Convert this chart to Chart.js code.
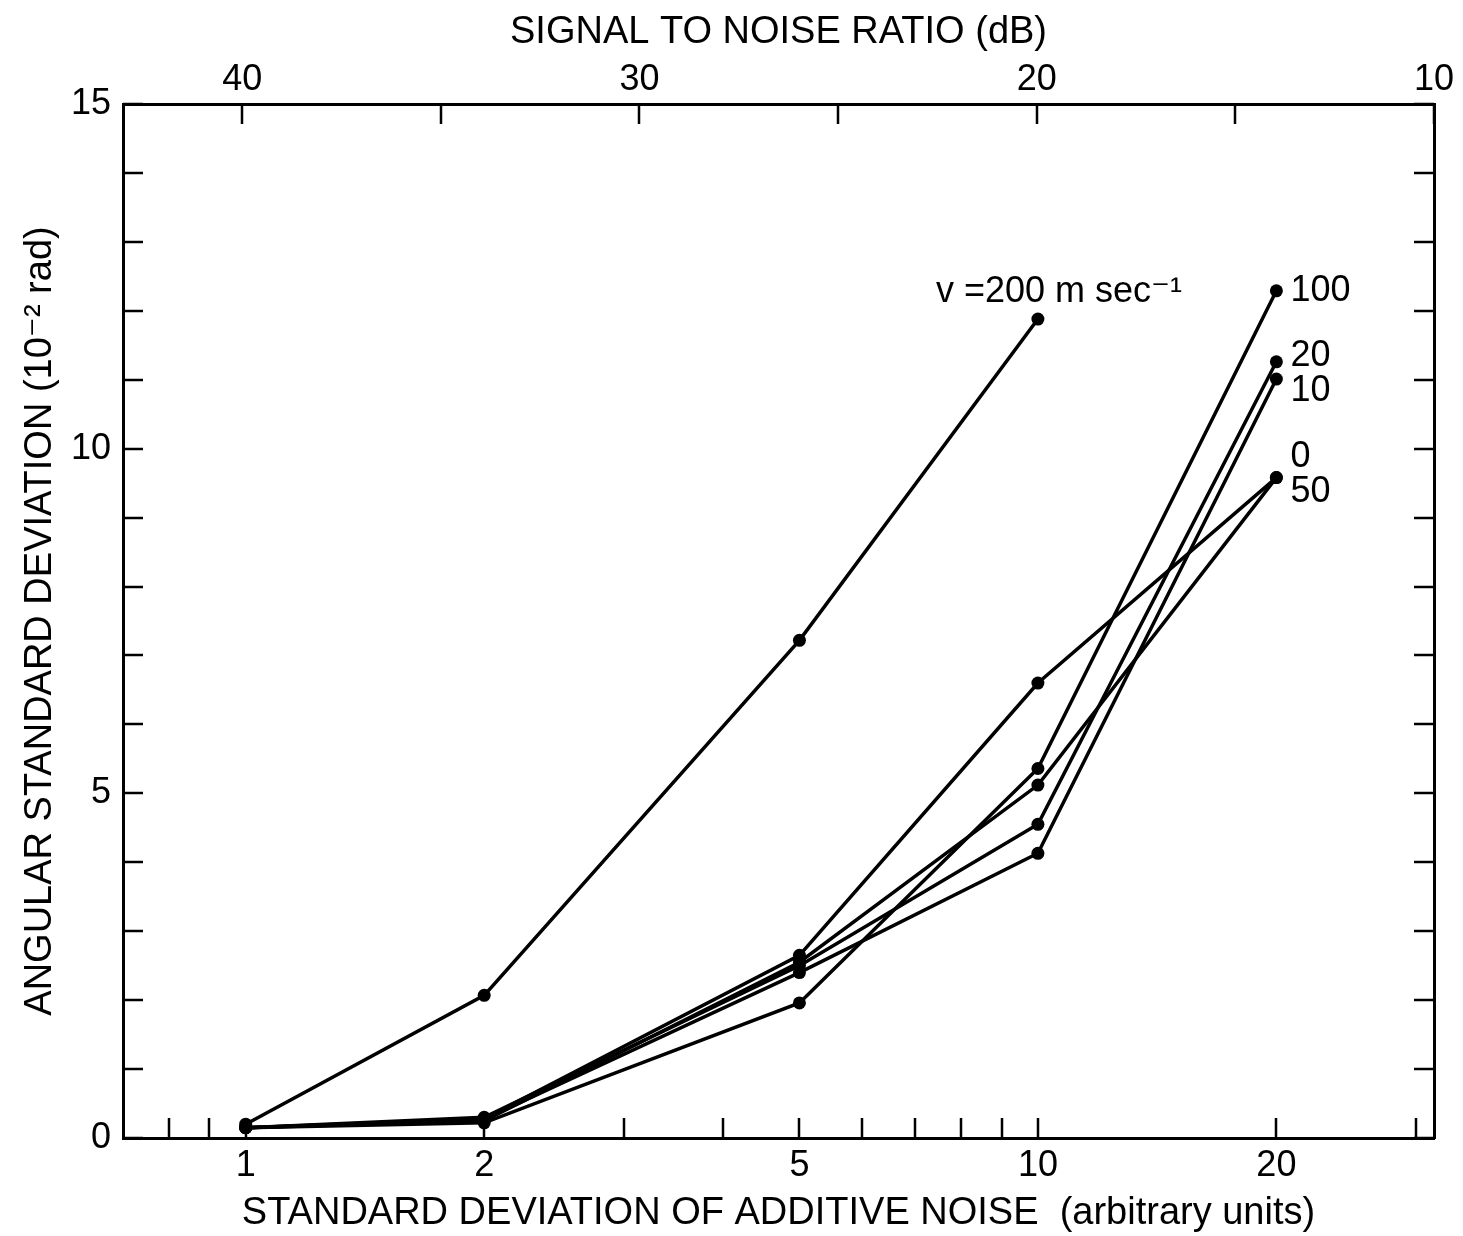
<!DOCTYPE html>
<html>
<head>
<meta charset="utf-8">
<script src="https://cdn.jsdelivr.net/npm/chart.js@4.4.1/dist/chart.umd.min.js"></script>
<style>
  html, body { margin: 0; padding: 0; background: #fff; }
  #wrap { width: 1463px; height: 1236px; position: relative; }
</style>
</head>
<body>
<div id="wrap"><canvas id="noiseChart"></canvas></div>
<script>
// noise std deviation (arbitrary units) of each run
const noiseLevels = [1, 2, 5, 10, 20];

// angular std deviation (10^-2 rad), one array per speed v (m/s)
const v200 = [0.2, 2.07, 7.22, 11.88];
const v100 = [0.15, 0.22, 1.96, 5.36, 12.29];
const v50 = [0.15, 0.28, 2.65, 6.6, 9.58];
const v0 = [0.15, 0.25, 2.55, 5.12, 9.58];
const v20 = [0.15, 0.3, 2.5, 4.55, 11.26];
const v10 = [0.15, 0.27, 2.4, 4.13, 11.01];

// ticks
const noiseTicks = [0.8, 0.9, 1, 2, 3, 4, 5, 6, 7, 8, 9, 10, 20, 30];
const noiseLabels = [1, 2, 5, 10, 20];
const snrTicks = [10, 15, 20, 25, 30, 35, 40];
const snrLabels = [10, 20, 30, 40];
const devTicks = [0, 1, 2, 3, 4, 5, 6, 7, 8, 9, 10, 11, 12, 13, 14, 15];
const devLabels = [0, 5, 10, 15];

// labels written at the end of each curve
const curveNames = ["v =200 m sec⁻¹", "100", "50", "0", "20", "10"];

// SNR (dB) = 40 - 20 log10(noise)
const snrMin = 10;
const snrMax = 43;
const noiseMin = Math.pow(10, (40 - snrMax) / 20);
const noiseMax = Math.pow(10, (40 - snrMin) / 20);

const FONT = "'Liberation Sans', 'DejaVu Sans', sans-serif";

// where each end label sits relative to the last point (px)
const labelOffsets = [
  { dx: -102, dy: -27 },
  { dx: 14, dy: 0 },
  { dx: 14, dy: 14 },
  { dx: 14, dy: -21 },
  { dx: 14, dy: -6 },
  { dx: 14, dy: 12 },
];

function toPoints(values) {
  return values.map((v, i) => ({ x: noiseLevels[i], y: v }));
}

function lineSet(label, values) {
  return {
    label,
    data: toPoints(values),
    borderColor: "#000",
    backgroundColor: "#000",
    borderWidth: 3.5,
    pointRadius: 6.5,
    pointBackgroundColor: "#000",
    pointBorderWidth: 0,
    tension: 0,
    xAxisID: "x",
    yAxisID: "y",
  };
}

// ticks drawn on the inside of the frame
const innerTicks = {
  id: "innerTicks",
  afterDraw(chart) {
    const { ctx, chartArea, scales } = chart;
    const len = 20;
    ctx.save();
    ctx.strokeStyle = "#000";
    ctx.lineWidth = 2.5;
    ctx.beginPath();
    scales.x.ticks.forEach(t => {
      const px = Math.round(scales.x.getPixelForValue(t.value));
      ctx.moveTo(px, chartArea.bottom);
      ctx.lineTo(px, chartArea.bottom - len);
    });
    scales.xTop.ticks.forEach(t => {
      const px = Math.round(scales.xTop.getPixelForValue(t.value));
      ctx.moveTo(px, chartArea.top);
      ctx.lineTo(px, chartArea.top + len);
    });
    scales.y.ticks.forEach(t => {
      const py = Math.round(scales.y.getPixelForValue(t.value));
      ctx.moveTo(chartArea.left, py);
      ctx.lineTo(chartArea.left + len, py);
    });
    scales.yRight.ticks.forEach(t => {
      const py = Math.round(scales.yRight.getPixelForValue(t.value));
      ctx.moveTo(chartArea.right, py);
      ctx.lineTo(chartArea.right - len, py);
    });
    ctx.stroke();
    ctx.restore();
  },
};

// curve names next to their last point
const endLabels = {
  id: "endLabels",
  afterDatasetsDraw(chart) {
    const { ctx } = chart;
    ctx.save();
    ctx.fillStyle = "#000";
    ctx.font = "36px " + FONT;
    ctx.textAlign = "left";
    ctx.textBaseline = "middle";
    chart.data.datasets.forEach((ds, i) => {
      const pts = chart.getDatasetMeta(i).data;
      const last = pts[pts.length - 1];
      const off = labelOffsets[i];
      ctx.fillText(curveNames[i], last.x + off.dx, last.y + off.dy);
    });
    ctx.restore();
  },
};

const tickFont = { family: FONT, size: 36 };
const titleFont = { family: FONT, size: 38 };
const frame = { display: true, color: "#000", width: 3 };

new Chart(document.getElementById("noiseChart").getContext("2d"), {
  type: "line",
  data: {
    datasets: [
      lineSet("200", v200),
      lineSet("100", v100),
      lineSet("50", v50),
      lineSet("0", v0),
      lineSet("20", v20),
      lineSet("10", v10),
    ],
  },
  options: {
    responsive: true,
    maintainAspectRatio: false,
    animation: false,
    layout: { padding: 0 },
    plugins: {
      legend: { display: false },
      tooltip: { enabled: false },
    },
    scales: {
      x: {
        type: "logarithmic",
        position: "bottom",
        min: noiseMin,
        max: noiseMax,
        afterBuildTicks: s => { s.ticks = noiseTicks.map(v => ({ value: v })); },
        afterFit: s => { s.height = 98; },
        grid: { display: false },
        border: frame,
        ticks: {
          autoSkip: false,
          maxRotation: 0,
          padding: -2,
          color: "#000",
          font: tickFont,
          callback: v => (noiseLabels.includes(v) ? String(v) : ""),
        },
        title: {
          display: true,
          text: "STANDARD DEVIATION OF ADDITIVE NOISE  (arbitrary units)",
          color: "#000",
          font: titleFont,
          padding: { top: 0, bottom: 0 },
        },
      },
      xTop: {
        type: "linear",
        position: "top",
        reverse: true,
        min: snrMin,
        max: snrMax,
        afterBuildTicks: s => { s.ticks = snrTicks.map(v => ({ value: v })); },
        afterFit: s => { s.height = 104; },
        grid: { display: false },
        border: frame,
        ticks: {
          autoSkip: false,
          maxRotation: 0,
          padding: -6,
          color: "#000",
          font: tickFont,
          callback: v => (snrLabels.includes(v) ? String(v) : ""),
        },
        title: {
          display: true,
          text: "SIGNAL TO NOISE RATIO (dB)",
          color: "#000",
          font: titleFont,
          padding: { top: 10, bottom: 0 },
        },
      },
      y: {
        type: "linear",
        position: "left",
        min: 0,
        max: 15,
        afterBuildTicks: s => { s.ticks = devTicks.map(v => ({ value: v })); },
        afterFit: s => { s.width = 123; },
        grid: { display: false },
        border: frame,
        ticks: {
          autoSkip: false,
          padding: 4,
          color: "#000",
          font: { family: FONT, size: 36 },
          callback: v => (devLabels.includes(v) ? String(v) : ""),
        },
        title: {
          display: true,
          text: "ANGULAR STANDARD DEVIATION (10⁻² rad)",
          color: "#000",
          font: titleFont,
          padding: { top: 18, bottom: 0 },
        },
      },
      yRight: {
        type: "linear",
        position: "right",
        min: 0,
        max: 15,
        afterBuildTicks: s => { s.ticks = devTicks.map(v => ({ value: v })); },
        afterFit: s => { s.width = 29; },
        grid: { display: false },
        border: frame,
        ticks: { display: false },
      },
    },
  },
  plugins: [innerTicks, endLabels],
});
</script>
</body>
</html>
